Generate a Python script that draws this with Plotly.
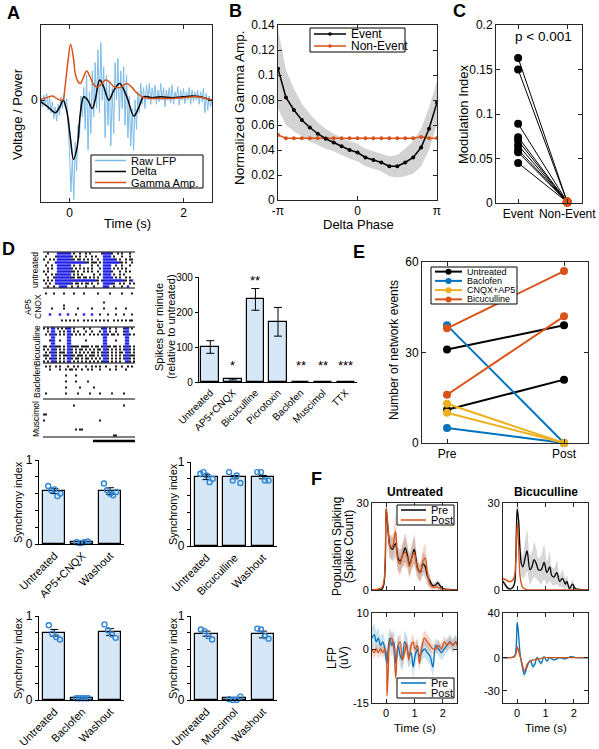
import plotly.graph_objects as go
import math

W, H = 599, 749
FONT = "Liberation Sans, Arial, sans-serif"
AX = "#262626"
BLUE = "#0072BD"
ORANGE = "#D95319"
YELLOW = "#EDB120"
RAW = "#7DBCE8"
BARFILL = "#D6E7F7"
DOT = "#2F86D6"
RBLUE = "#1F1FE6"

# ---------------- DATA ----------------
# Panel A : example event
lfp_t0, lfp_dt = -0.5, 0.025
raw_lfp = [0.02, -0.08, 0.06, -0.05, 0.08, -0.12, 0.03, -0.15, -0.02, -0.22,
           -0.08, -0.25, -0.05, -0.18, 0.04, -0.10, 0.06, -0.08, 0.02, -0.30,
           -0.60, -1.10, -0.70, -1.19, -0.50, -0.85, -0.30, -0.45, 0.05, -0.20,
           0.15, -0.35, 0.30, -0.60, 0.10, -0.40, 0.35, -0.20, 0.45, -0.10,
           0.60, -0.15, 0.69, 0.00, 0.40, -0.45, 0.30, -0.30, 0.20, -0.55,
           0.15, -0.40, 0.45, 0.00, 0.50, -0.25, 0.35, -0.10, 0.40, -0.30,
           0.30, -0.45, 0.05, -0.55, -0.10, -0.60, 0.00, -0.35, 0.10, -0.15,
           0.20, -0.05, 0.15, -0.10, 0.18, 0.00, 0.20, -0.05, 0.15, 0.00,
           0.18, -0.05, 0.12, -0.02, 0.20, 0.00, 0.15, -0.08, 0.12, 0.00,
           0.15, -0.03, 0.18, -0.05, 0.10, 0.02, 0.16, -0.06, 0.12, 0.00,
           0.14, -0.04, 0.10, 0.00, 0.15, -0.05, 0.12, -0.02, 0.10, 0.00,
           0.12, -0.05, 0.10, -0.02, 0.14, -0.15, 0.08, -0.12, 0.05, -0.08, 0.00]
delta_t = [-0.5, -0.38, -0.25, -0.17, -0.11, -0.04, 0.02, 0.07, 0.135, 0.19, 0.25, 0.32,
           0.40, 0.45, 0.53, 0.60, 0.69, 0.78, 0.88, 1.0, 1.13, 1.22, 1.3, 1.45, 1.6,
           1.8, 2.0, 2.15, 2.3, 2.4, 2.5]
delta_v = [-0.02, -0.08, -0.15, -0.08, 0.0, -0.16, -0.48, -0.71, -0.56, -0.16, 0.04, 0.0,
           -0.10, 0.0, 0.24, 0.16, 0.0, 0.12, 0.20, 0.05, -0.19, -0.08, 0.04, 0.03, 0.04,
           0.03, 0.04, 0.05, 0.04, 0.02, 0.0]
gamma_t = [-0.5, -0.4, -0.3, -0.2, -0.12, -0.08, -0.03, 0.02, 0.07, 0.1, 0.15, 0.19, 0.25,
           0.3, 0.36, 0.43, 0.5, 0.57, 0.63, 0.7, 0.78, 0.88, 0.95, 1.01, 1.1, 1.19, 1.31,
           1.45, 1.6, 1.8, 2.0, 2.2, 2.35, 2.5]
gamma_v = [0.01, 0.03, 0.05, 0.01, 0.0, 0.15, 0.45, 0.67, 0.5, 0.32, 0.22, 0.2, 0.28,
           0.35, 0.28, 0.18, 0.16, 0.2, 0.24, 0.22, 0.16, 0.15, 0.18, 0.2, 0.15, 0.08, 0.03,
           0.02, 0.02, 0.02, 0.03, 0.04, 0.03, 0.0]

# Panel B : phase-amplitude (21 phase bins from -pi to pi)
event_amp = [0.105, 0.082, 0.072, 0.064, 0.058, 0.053, 0.049, 0.046, 0.043, 0.040, 0.038,
             0.034, 0.032, 0.030, 0.027, 0.027, 0.030, 0.034, 0.042, 0.057, 0.078]
event_sem = [0.032, 0.022, 0.017, 0.013, 0.011, 0.009, 0.008, 0.007, 0.007, 0.007, 0.007,
             0.007, 0.007, 0.007, 0.008, 0.009, 0.011, 0.013, 0.015, 0.017, 0.017]
nonevent_amp = [0.052, 0.0495, 0.0495, 0.0495, 0.0495, 0.0495, 0.0495, 0.0495, 0.0495,
                0.0495, 0.0495, 0.0495, 0.0495, 0.0495, 0.0495, 0.0495, 0.0495, 0.0495,
                0.0505, 0.0495, 0.0495]

# Panel C : modulation index
mi_event = [0.163, 0.150, 0.089, 0.074, 0.070, 0.065, 0.060, 0.057, 0.045]
mi_nonevent = [0.001, 0.001, 0.001, 0.001, 0.001, 0.001, 0.001, 0.001, 0.001]

# Panel D raster ('|' black spike, 'b' burst spike, '.' none; spaces ignored)
raster_untreated = [
    "..|.... bbbbbbb .|..|..|.|.....| bbbb |..|.|...|..",
    ".|....| bbbbbbb |.|.|..|..|.|... bbbb .|...|...|..",
    "|..|.|. bbbbbbb ||.||.|.|.|..|.. bbbb bb|.|..|.||.",
    "..|...b bbbbbbb bbbbbbb||.|||.|. bbbb bbbb||.|..|.",
    ".|..|.. bbbbbbb .|..|.....|..|.. bbbb ..|..|...|..",
    "..|.|.. bbbbbbb |.|.|.|.|.|...|. bbbb .|.|.|.|....",
    "|.|.... bbbbbbb ||.|..|.|.|..|.. bbbb |...|..|.|..",
    ".|..|.| bbbbbbb .|.|.|.....|..|. bbbb .|..|.|.....",
    "..|..|b bbbbbbb ||.||.||.|.|.|.. bbbb b.|.|..|.|..",
    "|.|.|.b bbbbbbb bbbbbbbbbbbb||.| bbbb bbbbbb||.|b.",
    ".|.|..b bbbbbbb |.||.|.||.|..|.. bbbb b|..|.|..|.|",
    "..|..|. .bbbb.. |..|...|...|.... bbb. .|...|..b...",
]
raster_ap5 = [
    ".|...|....|....|....|......|.....|.....|....|.",
    "..............................................",
    "..............................................",
    "..............................|...............",
    "..........|...................................",
    "....|.....|......|......|.....|.....|....|....",
    "..............................................",
    "...b....b...b...|...b...b...|...|...|...|...|.",
    "..............................................",
    ".........|.|.|.|.|..|.|.|.|.|.|.|..|.|.|.|.||.",
]
raster_bicuculline = [
    "|.|. bb .|.|.| bb .|....|..|.....| bb .|..|...| bb .|.",
    "..|. bb ..|.|. bb .|.|...|..|...|. bb .|..|...| bb ...",
    ".|.| bb |.|.|. bb |.|.|.|..|.|.|.| bb |.||.|..| bb |.|",
    ".... bb ...... bb ................ bb ......... bb ...",
    "...| bb ..|... bb .......|........ bb ....|.... bb ...",
    ".... bb ...... bb ................ bb ......... bb ...",
    "||.| bb |||.|. bb ||||.||||.|.||.| bb ||.||.|.| bb |.|",
    "|.|. bb |.|.|. bb |.|.||.|.|.|.||. bb |.|.|.|.| bb |.|",
    ".|.| bb |.|||. bb |.|.|.|.|.||.|.| bb |.|.|.||. bb |.|",
    "|||. bb |.|.|| bb ||.|||.|.|||.|.| bb |.|.|.|.| bb |||",
    ".|.| bb |.|.|. bb |.||.|.||.|.|.|. bb |.|.|.|.| bb |.|",
    "|.|. bb |.|.|. bb .|.|.|.|.|.|.|.| bb |.|.|.|.. bb |.|",
]
raster_baclofen = [
    ".|.|..|.|...|..|.|...|..|.|.|..|....|..|..|.|.",
    "...|....|..|.||.|..|..|.|...|....|..|....|....",
    "..............................................",
    "...........|....|.............................",
    "..............................................",
    "...........|....|.....|.......................",
    "..............................................",
    "...........|......|......|....................",
    "..............................................",
    ".|.........|.....|.....|....|.....|.....|.....",
    "..............................................",
]
raster_muscimol = [
    "..............................................",
    "...............|........................|.....",
    "..............................................",
    "..............................................",
    "||............................................",
    "..............................................",
    "|...........................|.................",
    "..............................................",
    "..............................................",
    "................|.||..........................",
    "..............................................",
    "...................................||.........",
]
raster_labels = ["untreated", "AP5<br>CNOX", "Bicuculline", "Baclofen", "Muscimol"]

# Panel D : spike rate
spike_cats = ["Untreated", "AP5+CNQX", "Bicuculline", "Picrotoxin", "Baclofen", "Muscimol", "TTX"]
spike_vals = [100, 8, 236, 172, 1.0, 0.6, 0.4]
spike_err = [18, 2, 31, 41, 0.5, 0.3, 0.2]
spike_stars = ["", "*", "**", "", "**", "**", "***"]

# Panel D : synchrony index
sync_cats = [["Untreated", "AP5+CNQX", "Washout"], ["Untreated", "Bicuculline", "Washout"],
             ["Untreated", "Baclofen", "Washout"], ["Untreated", "Muscimol", "Washout"]]
sync_means = [[0.63, 0.02, 0.63], [0.82, 0.82, 0.82], [0.80, 0.02, 0.81], [0.79, 0.02, 0.78]]
sync_sem = [[0.03, 0.005, 0.04], [0.03, 0.02, 0.02], [0.04, 0.005, 0.04], [0.03, 0.01, 0.04]]
sync_dots = [
    [[0.69, 0.64, 0.65, 0.57, 0.60], [0.02, 0.01, 0.02, 0.03], [0.72, 0.64, 0.60, 0.58, 0.62]],
    [[0.86, 0.88, 0.84, 0.76, 0.80], [0.88, 0.78, 0.84, 0.75], [0.88, 0.88, 0.78, 0.78]],
    [[0.89, 0.79, 0.75, 0.72], [0.02, 0.02, 0.02, 0.02, 0.02], [0.90, 0.83, 0.78, 0.74]],
    [[0.84, 0.82, 0.76, 0.72], [0.01, 0.0, 0.0, 0.04], [0.85, 0.84, 0.76, 0.73]],
]

# Panel E : network events
e_groups = ["Untreated", "Baclofen", "CNQX+AP5", "Bicuculline"]
e_pre = {"Untreated": [31, 11], "Baclofen": [39, 5], "CNQX+AP5": [13, 10], "Bicuculline": [38, 16]}
e_post = {"Untreated": [39, 21], "Baclofen": [0, 0], "CNQX+AP5": [0, 0], "Bicuculline": [57, 42]}

# Panel F : population spiking
f_t_unt = [-0.5, -0.3, -0.15, -0.08, -0.03, 0, 0.07, 0.14, 0.22, 0.33, 0.42, 0.49, 0.58, 0.67,
           0.75, 0.82, 0.9, 0.99, 1.05, 1.11, 1.2, 1.3, 1.38, 1.45, 1.55, 1.65, 1.75, 1.82,
           1.9, 2.0, 2.2, 2.5]
f_unt_pre = [0, 0, 0.3, 2, 10, 28, 20, 15, 14, 16, 11, 10, 12, 14.5, 12, 9, 11, 14, 11, 7.5,
             6, 9, 8, 5, 3, 1.5, 1.8, 2.5, 1.5, 0.5, 0.2, 0]
f_unt_post = [0, 0.3, 0.8, 3, 12, 28, 21, 15, 15, 20, 10, 9, 12, 13, 11, 8, 11, 13, 10, 7, 6,
              10, 11, 6, 2, 1, 1, 1, 0.5, 0.3, 0.1, 0]
f_unt_pre_sem = [0, 0, 0.3, 1, 3, 3, 4, 4, 4, 5, 4, 4, 4, 5, 4, 4, 4, 5, 4, 3, 3, 4, 4, 3, 2,
                 1, 1, 1, 1, 0.5, 0.2, 0]
f_unt_post_sem = [0, 0.3, 0.5, 1, 3, 3, 4, 4, 4, 6, 4, 4, 4, 5, 4, 4, 4, 5, 4, 3, 3, 4, 5, 3,
                  2, 1, 1, 1, 0.5, 0.3, 0.1, 0]
f_t_bic = [-0.5, -0.4, -0.3, -0.2, -0.1, -0.05, 0, 0.05, 0.1, 0.15, 0.2, 0.28, 0.35, 0.45,
           0.52, 0.6, 0.68, 0.75, 0.85, 0.95, 1.05, 1.15, 1.22, 1.3, 1.4, 1.5, 1.6, 1.7, 1.75,
           1.85, 1.95, 2.05, 2.2, 2.5]
f_bic_pre = [3, 1.5, 0.5, 0.5, 2, 10, 28, 24, 14, 9, 8, 11, 13.5, 7, 8, 10.5, 9, 7, 7, 9.5, 6,
             8, 5, 4.5, 6, 3, 4, 2, 3, 0.5, 2, 0.5, 0.2, 0]
f_bic_post = [4, 3.5, 3, 3, 4.5, 10, 23, 15, 5, 2, 0.8, 0.3, 0.1, 0, 0, 0, 0, 0, 0, 0, 0, 0,
              0, 0, 0, 0, 0, 0, 0, 0, 0, 0, 0, 0]
f_bic_pre_sem = [1, 1, 0.5, 0.5, 1, 3, 3, 4, 4, 4, 4, 6, 7, 5, 5, 6, 5, 4, 5, 6, 4, 5, 3, 3,
                 4, 2, 3, 2, 2, 1, 1.5, 0.5, 0.2, 0]
f_bic_post_sem = [0.5, 0.5, 0.5, 0.5, 0.8, 2, 3, 3, 1.5, 0.8, 0.4, 0.2, 0.1, 0, 0, 0, 0, 0, 0,
                  0, 0, 0, 0, 0, 0, 0, 0, 0, 0, 0, 0, 0, 0, 0]
# Panel F : LFP
f_t_lfp_unt = [-0.5, -0.42, -0.35, -0.28, -0.2, -0.12, -0.05, 0, 0.03, 0.08, 0.13, 0.2, 0.27,
               0.34, 0.42, 0.5, 0.57, 0.65, 0.72, 0.8, 0.88, 0.95, 1.02, 1.1, 1.17, 1.25,
               1.35, 1.45, 1.55, 1.65, 1.75, 1.85, 1.95, 2.05, 2.15, 2.25, 2.35, 2.45, 2.5]
f_lfp_unt_pre = [3, 4, 2, 3, 1, 2, 0, -3, -4, 1, 3, 1, 2, -4, 1, -2, -3, 2, 1, -2, -1, -5,
                 -2, 0, -2, -1, 0, -1, -2, -5, 1, 0, -1, 0, 1, 2, 1, 2, 1]
f_lfp_unt_post = [0, -1, 0, -1, 0, -1, 0, -1, -13, -5, 2, 3, 0, -8, 1, 2, -3, -1, 1.5, -3, 1,
                  2, 0, 1, -4, 0, 3, 2, 1, 0, 0, 1, 0, 2, 1, 2, 1, 2, 1]
f_lfp_unt_pre_sem = [3, 3, 3, 3, 2.5, 2.5, 2.5, 3, 3, 3, 3, 3, 3, 3, 3, 3, 3, 3, 3,
                     3, 3, 3, 3, 2.5, 2.5, 2.5, 2.5, 2.5, 2.5, 2.5, 2, 2, 2, 2, 2,
                     2, 2, 2, 2]
f_lfp_unt_post_sem = [1.5, 1.5, 1.5, 1.5, 1.5, 1.5, 1.5, 2, 2, 2, 2, 2, 2, 2, 2, 2, 2, 2, 2,
                      2, 2, 2, 2, 2, 2, 2, 2, 2, 2, 1.5, 1.5, 1.5, 1.5, 1.5, 1.5, 1.5, 1.5,
                      1.5, 1.5]
f_t_lfp_bic = [-0.5, -0.3, -0.15, -0.08, -0.03, 0, 0.04, 0.08, 0.12, 0.18, 0.25, 0.3, 0.35,
               0.42, 0.48, 0.55, 0.62, 0.7, 0.78, 0.85, 0.95, 1.05, 1.15, 1.3, 1.5, 1.7, 1.9,
               2.1, 2.5]
f_lfp_bic_pre = [0, 0, 0.5, 2, 12, 32, 24, 10, 0, -8, -15, -12, -8, -4, -3, -8, -6, 0, -3, -5,
                 1, -3, 0, -2, 0, -1, 1, 0, 0]
f_lfp_bic_post = [0, 0, 0.3, 1, 5, 10, 7, 3, 0, -6, -12, -10, -6, -4, -3, -2, -2, -1, -1, -0.5,
                  0, 0, 0, 0, 0, 0, 0, 0, 0]
f_lfp_bic_pre_sem = [0.5, 0.5, 0.5, 1, 3, 5, 4, 3, 2, 3, 3, 3, 3, 2, 2, 3, 2, 2, 2, 2, 1, 1.5,
                     1, 1, 1, 0.5, 0.5, 0.5, 0.5]
f_lfp_bic_post_sem = [0.3, 0.3, 0.3, 0.5, 1, 2, 2, 1.5, 1, 1.5, 1.5, 1.5, 1, 1, 1, 1, 1, 0.5,
                      0.5, 0.5, 0.3, 0.3, 0.3, 0.3, 0.3, 0.3, 0.3, 0.3, 0.3]

# ---------------- HELPERS ----------------
fig = go.Figure()
layout = {}
shapes = []
anns = []


def xd(a, b):
    return [a / W, b / W]


def yd(a, b):
    return [1 - b / H, 1 - a / H]


def names(n):
    return ("x" if n == 1 else f"x{n}"), ("y" if n == 1 else f"y{n}")


def add(tr, n):
    xa, ya = names(n)
    tr.update(xaxis=xa, yaxis=ya, showlegend=False)
    fig.add_trace(tr)


def text(t, x, y, size, angle=0, bold=False, xanchor="center", yanchor="middle", xref="paper", yref="paper"):
    if xref == "paper":
        x = x / W
    if yref == "paper":
        y = 1 - y / H
    anns.append(dict(text=f"<b>{t}</b>" if bold else t, x=x, y=y, xref=xref, yref=yref,
                     showarrow=False, textangle=angle, xanchor=xanchor, yanchor=yanchor,
                     font=dict(family=FONT, size=size, color="black")))


def box_axes(n, xdom, ydom, xr, yr, xt, xtt, yt, ytt, fs=12, xlabels=True):
    xa, ya = names(n)
    common = dict(showline=True, linecolor=AX, linewidth=1, mirror="ticks", ticks="inside",
                  ticklen=4, tickcolor=AX, tickwidth=1, showgrid=False, zeroline=False,
                  fixedrange=True, automargin=False,
                  tickfont=dict(family=FONT, size=fs, color="black"))
    layout["xaxis" if n == 1 else f"xaxis{n}"] = dict(common, domain=xd(*xdom), range=xr, tickvals=xt,
                                                       ticktext=xtt, anchor=ya, showticklabels=xlabels)
    layout["yaxis" if n == 1 else f"yaxis{n}"] = dict(common, domain=yd(*ydom), range=yr, tickvals=yt,
                                                       ticktext=ytt, anchor=xa)


def prism_axes(n, xdom, ydom, xr, yr, xt, xtt, yt, ytt, fsx, fsy):
    xa, ya = names(n)
    common = dict(showline=True, linecolor="black", linewidth=1.2, mirror=False, showgrid=False,
                  zeroline=False, fixedrange=True, automargin=False)
    layout[f"xaxis{n}"] = dict(common, domain=xd(*xdom), range=xr, tickvals=xt, ticktext=xtt,
                               anchor=ya, ticks="", tickangle=-45,
                               tickfont=dict(family=FONT, size=fsx, color="black"))
    layout[f"yaxis{n}"] = dict(common, domain=yd(*ydom), range=yr, tickvals=yt, ticktext=ytt,
                               anchor=xa, ticks="outside", ticklen=3, tickcolor="black",
                               tickfont=dict(family=FONT, size=fsy, color="black"))


def legend(x0, y0, x1, y1, entries, fs, llen, msize=0, lw=1.5):
    shapes.append(dict(type="rect", xref="paper", yref="paper", x0=x0 / W, x1=x1 / W,
                       y0=1 - y1 / H, y1=1 - y0 / H, line=dict(color="black", width=1),
                       fillcolor="white"))
    rh = (y1 - y0) / len(entries)
    for i, (lab, col) in enumerate(entries):
        yc = y0 + rh * (i + 0.5)
        shapes.append(dict(type="line", xref="paper", yref="paper", x0=(x0 + 4) / W,
                           x1=(x0 + 4 + llen) / W, y0=1 - yc / H, y1=1 - yc / H,
                           line=dict(color=col, width=lw)))
        if msize:
            cx = x0 + 4 + llen / 2
            shapes.append(dict(type="circle", xref="paper", yref="paper",
                               x0=(cx - msize) / W, x1=(cx + msize) / W,
                               y0=1 - (yc + msize) / H, y1=1 - (yc - msize) / H,
                               fillcolor=col, line=dict(color=col, width=0)))
        text(lab, x0 + llen + 7, yc, fs, xanchor="left")


# ---------------- PANEL A ----------------
box_axes(1, (41, 212), (25, 202), [-0.5, 2.5], [-1.22, 0.9], [0, 2], ["0", "2"], [0], ["0"])
lfp_t = [lfp_t0 + lfp_dt * i for i in range(len(raw_lfp))]
add(go.Scatter(x=lfp_t, y=raw_lfp, mode="lines", line=dict(color=RAW, width=1)), 1)
add(go.Scatter(x=delta_t, y=delta_v, mode="lines", line=dict(color="black", width=1.5, shape="spline")), 1)
add(go.Scatter(x=gamma_t, y=gamma_v, mode="lines", line=dict(color=ORANGE, width=1.5, shape="spline")), 1)
legend(91, 155, 203, 188, [("Raw LFP", RAW), ("Delta", "black"), ("Gamma Amp.", ORANGE)], 11, 31)
text("Voltage / Power", 17, 114, 13, angle=-90)
text("Time (s)", 127, 223, 13)
text("A", 13, 13, 18, bold=True)

# ---------------- PANEL B ----------------
nb = len(event_amp)
phase = [-math.pi + 2 * math.pi * k / (nb - 1) for k in range(nb)]
box_axes(2, (278, 437), (25, 200), [-math.pi, math.pi], [0, 0.14],
         [-math.pi, 0, math.pi], ["-π", "0", "π"],
         [0, 0.02, 0.04, 0.06, 0.08, 0.1, 0.12, 0.14],
         ["0", "0.02", "0.04", "0.06", "0.08", "0.1", "0.12", "0.14"])
upper = [a + s for a, s in zip(event_amp, event_sem)]
lower = [a - s for a, s in zip(event_amp, event_sem)]
add(go.Scatter(x=phase, y=upper, mode="lines", line=dict(width=0, color="rgba(0,0,0,0)")), 2)
add(go.Scatter(x=phase, y=lower, mode="lines", line=dict(width=0, color="rgba(0,0,0,0)"),
               fill="tonexty", fillcolor="#D3D3D3"), 2)
add(go.Scatter(x=phase, y=nonevent_amp, mode="lines+markers", line=dict(color=ORANGE, width=1.5),
               marker=dict(size=4, color=ORANGE)), 2)
add(go.Scatter(x=phase, y=event_amp, mode="lines+markers", line=dict(color="black", width=1.5),
               marker=dict(size=4, color="black")), 2)
legend(310, 28, 405, 52, [("Event", "black"), ("Non-Event", ORANGE)], 12, 32, msize=1.8)
text("Normalized Gamma Amp.", 240, 108, 13.5, angle=-90)
text("Delta Phase", 358, 224, 13)
text("B", 235, 11, 18, bold=True)

# ---------------- PANEL C ----------------
box_axes(3, (496, 582), (25, 203), [-0.45, 1.3], [0, 0.2], [0, 1], ["Event", "Non-Event"],
         [0, 0.05, 0.1, 0.15, 0.2], ["0", "0.05", "0.1", "0.15", "0.2"])
cx, cy = [], []
for a, b in zip(mi_event, mi_nonevent):
    cx += [0, 1, None]
    cy += [a, b, None]
add(go.Scatter(x=cx, y=cy, mode="lines", line=dict(color="black", width=1)), 3)
add(go.Scatter(x=[0] * len(mi_event), y=mi_event, mode="markers", marker=dict(size=8, color="black")), 3)
add(go.Scatter(x=[1] * len(mi_nonevent), y=mi_nonevent, mode="markers",
               marker=dict(size=9, color=ORANGE), cliponaxis=False), 3)
text("p < 0.001", 543, 36, 13.5)
text("Modulation Index", 463, 114, 13, angle=-90)
text("C", 459, 11, 18, bold=True)

# ---------------- PANEL D raster ----------------
layout["xaxis4"] = dict(domain=xd(43, 135), range=[0, 46], visible=False, anchor="y4", fixedrange=True)
layout["yaxis4"] = dict(domain=yd(250, 444), range=[194, 0], visible=False, anchor="x4", fixedrange=True)
sections = [(raster_untreated, 2), (raster_ap5, 42), (raster_bicuculline, 77),
            (raster_baclofen, 115), (raster_muscimol, 151)]
kx, ky, bx, by = [], [], [], []
for rows, top in sections:
    for r, s in enumerate(rows):
        s = s.replace(" ", "")
        yy = top + 1.5 + 3 * r
        for b, ch in enumerate(s):
            if ch == "|":
                kx.append(b + 0.5); ky.append(yy)
            elif ch == "b":
                bx.append(b + 0.5); by.append(yy)
add(go.Scatter(x=kx, y=ky, mode="markers",
               marker=dict(symbol="square", size=1.8, color="black", line=dict(width=0))), 4)
add(go.Scatter(x=bx, y=by, mode="markers",
               marker=dict(symbol="square", size=2.4, color=RBLUE, line=dict(width=0))), 4)
for yl in [2, 38, 77, 113, 149, 187]:
    shapes.append(dict(type="line", xref="x4", yref="y4", x0=0, x1=46, y0=yl, y1=yl,
                       line=dict(color="black", width=1)))
shapes.append(dict(type="line", xref="x4", yref="y4", x0=25, x1=46, y0=191, y1=191,
                   line=dict(color="black", width=2.5)))
text(raster_labels[0], 35, 270, 8.5, angle=-90)
text("AP5", 28, 307, 8.5, angle=-90)
text("CNOX", 38, 307, 8.5, angle=-90)
text(raster_labels[2], 37, 346, 8.5, angle=-90)
text(raster_labels[3], 37, 382, 8.5, angle=-90)
text(raster_labels[4], 36, 419, 8.5, angle=-90)
text("D", 8, 249, 18, bold=True)

# ---------------- PANEL D spike rate ----------------
xs = list(range(len(spike_cats)))
prism_axes(5, (199, 357), (277, 382), [-0.5, 6.5], [0, 300], xs, spike_cats,
           [0, 100, 200, 300], ["0", "100", "200", "300"], 10, 10)
add(go.Bar(x=xs, y=spike_vals, width=0.78,
           marker=dict(color=BARFILL, line=dict(color="black", width=1.2)),
           error_y=dict(type="data", array=spike_err, color="black", thickness=1, width=4)), 5)
for i, st in enumerate(spike_stars):
    if st:
        anns.append(dict(text=st, x=i, y=max(spike_vals[i] + spike_err[i] + 22, 46), xref="x5",
                         yref="y5", showarrow=False, font=dict(family=FONT, size=13, color="black")))
text("Spikes per minute", 159, 327, 11, angle=-90)
text("(relative to untreated)", 171, 327, 11, angle=-90)

# ---------------- PANEL D synchrony ----------------
sync_boxes = [((39, 124), (460, 544)), ((191, 277), (462, 546)),
              ((39, 124), (616, 700)), ((191, 277), (616, 700))]
jit = {4: [-0.2, -0.07, 0.07, 0.2], 5: [-0.22, -0.11, 0, 0.11, 0.22]}
for k in range(4):
    n = 7 + k
    (xa0, xa1), (ya0, ya1) = sync_boxes[k]
    prism_axes(n, (xa0, xa1), (ya0, ya1), [-0.55, 2.5], [0, 1], [0, 1, 2], sync_cats[k],
               [0, 0.2, 0.4, 0.6, 0.8, 1], ["0", "", "", "", "", "1"], 11, 12)
    add(go.Bar(x=[0, 1, 2], y=sync_means[k], width=0.8,
               marker=dict(color=BARFILL, line=dict(color="black", width=1.2)),
               error_y=dict(type="data", array=sync_sem[k], color="black", thickness=1, width=4)), n)
    dx, dy = [], []
    for c, vals in enumerate(sync_dots[k]):
        off = jit[len(vals)]
        for j, v in enumerate(vals):
            dx.append(c + off[j]); dy.append(v)
    add(go.Scatter(x=dx, y=dy, mode="markers", cliponaxis=False,
                   marker=dict(symbol="circle-open", size=5, color=DOT, line=dict(width=1.4))), n)
    text("Synchrony index", 18 if k % 2 == 0 else 173, (ya0 + ya1) / 2, 11, angle=-90)

# ---------------- PANEL E ----------------
box_axes(6, (422, 588), (262, 443), [-0.214, 1.205], [0, 60], [0, 1], ["Pre", "Post"],
         [0, 30, 60], ["0", "30", "60"], fs=12)
e_colors = {"Untreated": "black", "Baclofen": BLUE, "CNQX+AP5": YELLOW, "Bicuculline": ORANGE}
for g in e_groups:
    for a, b in zip(e_pre[g], e_post[g]):
        add(go.Scatter(x=[0, 1], y=[a, b], mode="lines+markers", line=dict(color=e_colors[g], width=2),
                       marker=dict(size=8, color=e_colors[g]), cliponaxis=False), 6)
legend(431, 267, 517, 304, [(g, e_colors[g]) for g in e_groups], 9, 27, msize=3, lw=2)
text("Number of network events", 394, 350, 12, angle=-90)
text("E", 359, 252, 18, bold=True)

# ---------------- PANEL F ----------------
fx = [0, 1, 2]
box_axes(11, (372, 457), (503, 590), [-0.5, 2.5], [0, 30], fx, ["0", "1", "2"], [0, 30], ["0", "30"],
         fs=11, xlabels=False)
box_axes(12, (503, 588), (503, 590), [-0.5, 2.5], [0, 30], fx, ["0", "1", "2"], [0, 30], ["0", "30"],
         fs=11, xlabels=False)
box_axes(13, (372, 457), (613, 703), [-0.5, 2.5], [-15, 10], fx, ["0", "1", "2"], [-15, 0, 10],
         ["-15", "0", "10"], fs=11)
box_axes(14, (503, 588), (613, 703), [-0.5, 2.5], [-41, 40.5], fx, ["0", "1", "2"], [-30, 0, 40],
         ["-30", "0", "40"], fs=11)


def band_line(n, t, v, s, fillcol):
    up = [a + b for a, b in zip(v, s)]
    lo = [a - b for a, b in zip(v, s)]
    add(go.Scatter(x=t, y=up, mode="lines", line=dict(width=0, color="rgba(0,0,0,0)", shape="spline")), n)
    add(go.Scatter(x=t, y=lo, mode="lines", line=dict(width=0, color="rgba(0,0,0,0)", shape="spline"),
                   fill="tonexty", fillcolor=fillcol), n)


GRAYF = "rgba(140,140,140,0.35)"
ORF = "rgba(217,83,25,0.22)"
BLF = "rgba(0,114,189,0.2)"
band_line(11, f_t_unt, f_unt_pre, f_unt_pre_sem, GRAYF)
band_line(11, f_t_unt, f_unt_post, f_unt_post_sem, ORF)
add(go.Scatter(x=f_t_unt, y=f_unt_pre, mode="lines", line=dict(color="black", width=1.3, shape="spline")), 11)
add(go.Scatter(x=f_t_unt, y=f_unt_post, mode="lines", line=dict(color=ORANGE, width=1.3, shape="spline")), 11)

band_line(12, f_t_bic, f_bic_pre, f_bic_pre_sem, GRAYF)
band_line(12, f_t_bic, f_bic_post, f_bic_post_sem, ORF)
add(go.Scatter(x=f_t_bic, y=f_bic_pre, mode="lines", line=dict(color="black", width=1.3, shape="spline")), 12)
add(go.Scatter(x=f_t_bic, y=f_bic_post, mode="lines", line=dict(color=ORANGE, width=1.3, shape="spline")), 12)

band_line(13, f_t_lfp_unt, f_lfp_unt_pre, f_lfp_unt_pre_sem, BLF)
band_line(13, f_t_lfp_unt, f_lfp_unt_post, f_lfp_unt_post_sem, ORF)
add(go.Scatter(x=f_t_lfp_unt, y=f_lfp_unt_pre, mode="lines", line=dict(color=BLUE, width=1.3, shape="spline")), 13)
add(go.Scatter(x=f_t_lfp_unt, y=f_lfp_unt_post, mode="lines", line=dict(color=ORANGE, width=1.3, shape="spline")), 13)

band_line(14, f_t_lfp_bic, f_lfp_bic_pre, f_lfp_bic_pre_sem, BLF)
band_line(14, f_t_lfp_bic, f_lfp_bic_post, f_lfp_bic_post_sem, ORF)
add(go.Scatter(x=f_t_lfp_bic, y=f_lfp_bic_pre, mode="lines", line=dict(color=BLUE, width=1.3, shape="spline")), 14)
add(go.Scatter(x=f_t_lfp_bic, y=f_lfp_bic_post, mode="lines", line=dict(color=ORANGE, width=1.3, shape="spline")), 14)

legend(397, 505, 454, 525, [("Pre", "black"), ("Post", ORANGE)], 11, 25)
legend(397, 678, 454, 698, [("Pre", BLUE), ("Post", ORANGE)], 11, 25)
text("Untreated", 415, 492, 12, bold=True)
text("Bicuculline", 546, 492, 12, bold=True)
text("Population Spiking", 337, 547, 12, angle=-90)
text("(Spike Count)", 349, 547, 12, angle=-90)
text("LFP", 332, 658, 12, angle=-90)
text("(uV)", 344, 658, 12, angle=-90)
text("Time (s)", 415, 728, 11.5)
text("Time (s)", 546, 728, 11.5)
text("F", 316, 479, 18, bold=True)

fig.update_layout(
    width=W, height=H, margin=dict(l=0, r=0, t=0, b=0, pad=0, autoexpand=False),
    paper_bgcolor="white", plot_bgcolor="white", showlegend=False,
    font=dict(family=FONT, color="black"), shapes=shapes, annotations=anns,
    bargap=0, **layout)
fig.write_html("out.html", config={"displayModeBar": False},
               post_script="document.body.style.margin='0px';document.body.style.overflow='hidden';")
